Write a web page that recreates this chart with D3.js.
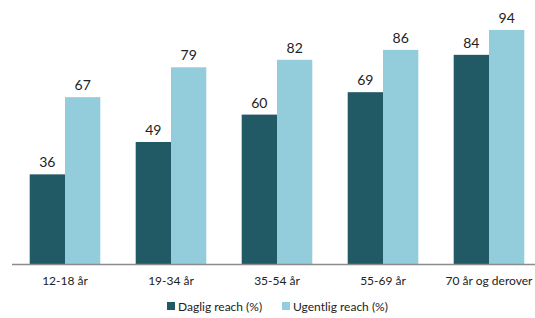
<html>
<meta charset="utf-8" />
<head>
<script src="https://cdn.jsdelivr.net/npm/d3@7"></script>
<style>
	body { margin: 0; background: #fff; }
	text { font-family: Lato, "Open Sans", sans-serif; fill: #222; }
</style>
</head>
<body>
<svg id="chart" width="535" height="318"></svg>
<script>
// data
let categories = ['12-18 år', '19-34 år', '35-54 år', '55-69 år', '70 år og derover'];
let seriesNames = ['Daglig reach (%)', 'Ugentlig reach (%)'];
let daglig = [36, 49, 60, 69, 84];
let ugentlig = [67, 79, 82, 86, 94];
let colors = ['#215965', '#93cddc'];

let svg = d3.select('#chart');
let baseY = 264;

let x = d3.scaleBand().domain(categories).range([12, 542]).paddingInner(0.334).paddingOuter(0.167);
let xs = d3.scaleBand().domain(seriesNames).range([0, x.bandwidth()]);
let y = d3.scaleLinear().domain([0, 100]).range([baseY, 15]);

let rows = categories.map(function(c, i) {
	return { cat: c, vals: [daglig[i], ugentlig[i]] };
});

let g = svg.selectAll('g.grp').data(rows).enter().append('g')
	.attr('class', 'grp')
	.attr('transform', function(d) { return 'translate(' + x(d.cat) + ',0)'; });

g.selectAll('rect').data(function(d) { return d.vals; }).enter().append('rect')
	.attr('x', function(d, i) { return xs(seriesNames[i]); })
	.attr('width', xs.bandwidth())
	.attr('y', function(d) { return y(d); })
	.attr('height', function(d) { return baseY - y(d); })
	.style('fill', function(d, i) { return colors[i]; });

g.selectAll('text').data(function(d) { return d.vals; }).enter().append('text')
	.attr('x', function(d, i) { return xs(seriesNames[i]) + xs.bandwidth() / 2; })
	.attr('y', function(d) { return y(d) - 7; })
	.attr('text-anchor', 'middle')
	.style('font-size', '14px')
	.text(function(d) { return d; });

// x axis
let axis = svg.append('g').attr('transform', 'translate(0,' + baseY + ')')
	.call(d3.axisBottom(x).tickSize(0).tickPadding(12));
axis.select('.domain').attr('d', 'M12,0.5H535').style('stroke', '#8c8c8c').style('stroke-width', 1.5);
axis.selectAll('text').style('font-size', '12px').style('font-family', 'Lato, sans-serif').style('fill', '#222');

// legend
let legX = [167, 282];
let leg = svg.selectAll('g.leg').data(seriesNames).enter().append('g')
	.attr('class', 'leg')
	.attr('transform', function(d, i) { return 'translate(' + legX[i] + ',302)'; });
leg.append('rect').attr('width', 8).attr('height', 8).style('fill', function(d, i) { return colors[i]; });
leg.append('text').attr('x', 11).attr('y', 8.5).style('font-size', '12px').text(function(d) { return d; });
</script>
</body>
</html>
